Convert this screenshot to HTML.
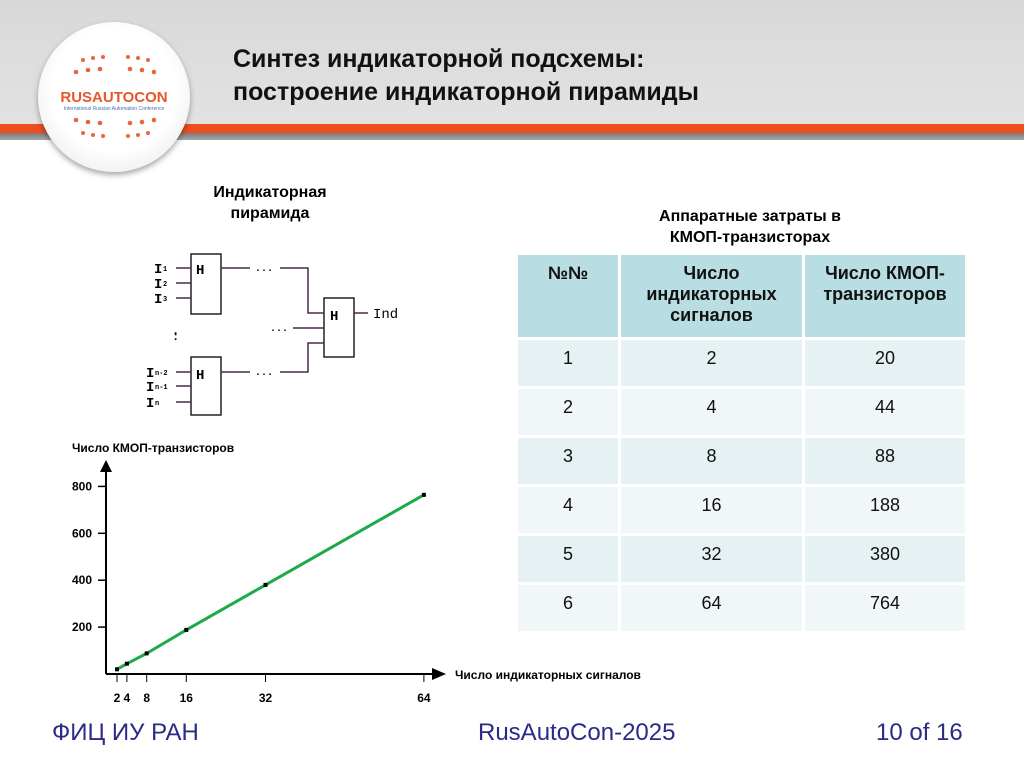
<!DOCTYPE html>
<html><head><meta charset="utf-8">
<style>
body{margin:0;width:1024px;height:767px;position:relative;overflow:hidden;background:#fff;font-family:"Liberation Sans",sans-serif;}
.abs{position:absolute;}
#hdr{left:0;top:0;width:1024px;height:124px;background:linear-gradient(#d8d8d8,#e2e2e2);}
#stripe1{left:0;top:124px;width:1024px;height:9px;background:#ee4d1d;}
#stripe2{left:0;top:133px;width:1024px;height:7px;background:linear-gradient(#7a7a7a,#a8a8a8);}
#logo{left:38px;top:22px;width:152px;height:150px;border-radius:50%;background:radial-gradient(circle at 50% 45%,#fff 55%,#eee 80%,#ccc 100%);box-shadow:0 3px 6px rgba(0,0,0,.35);}
.title{left:233px;font-weight:bold;font-size:25px;color:#111;}
table{border-collapse:separate;border-spacing:3px;position:absolute;left:515px;top:252px;width:453px;}
td{font-size:18px;text-align:center;vertical-align:top;color:#111;height:46px;box-sizing:border-box;padding:8px 0 0;}
th{font-size:18px;font-weight:bold;vertical-align:top;background:#b8dde2;color:#111;height:82px;box-sizing:border-box;padding:8px 0 0;}
tr.o td{background:#e6f1f3;} tr.e td{background:#f1f6f8;}
.foot{top:719px;font-family:"Liberation Sans Narrow","Liberation Sans",sans-serif;font-size:24px;color:#2b2b87;}
</style></head><body>
<div id="hdr" class="abs"></div>
<div id="stripe1" class="abs"></div>
<div id="stripe2" class="abs"></div>
<div id="logo" class="abs">
<svg width="152" height="150">
<g fill="#e8673a">
<circle cx="45" cy="38" r="2"/><circle cx="55" cy="36" r="2"/><circle cx="65" cy="35" r="2"/><circle cx="90" cy="35" r="2"/><circle cx="100" cy="36" r="2"/><circle cx="110" cy="38" r="2"/>
<circle cx="38" cy="50" r="2.3"/><circle cx="50" cy="48" r="2.3"/><circle cx="62" cy="47" r="2.3"/><circle cx="92" cy="47" r="2.3"/><circle cx="104" cy="48" r="2.3"/><circle cx="116" cy="50" r="2.3"/>
<circle cx="38" cy="98" r="2.3"/><circle cx="50" cy="100" r="2.3"/><circle cx="62" cy="101" r="2.3"/><circle cx="92" cy="101" r="2.3"/><circle cx="104" cy="100" r="2.3"/><circle cx="116" cy="98" r="2.3"/>
<circle cx="45" cy="111" r="2"/><circle cx="55" cy="113" r="2"/><circle cx="65" cy="114" r="2"/><circle cx="90" cy="114" r="2"/><circle cx="100" cy="113" r="2"/><circle cx="110" cy="111" r="2"/>
</g>
<text x="76" y="80" text-anchor="middle" font-family="Liberation Sans" font-weight="bold" font-size="15" fill="#e8562a">RUSAUTOCON</text>
<text x="76" y="88" text-anchor="middle" font-family="Liberation Sans" font-size="5" fill="#4a6fb0">International Russian Automation Conference</text>
</svg></div>
<div class="abs title" style="top:45px">Синтез индикаторной подсхемы:</div>
<div class="abs title" style="top:78px">построение индикаторной пирамиды</div>

<div class="abs" style="left:190px;top:182px;width:160px;text-align:center;font-weight:bold;font-size:16px;line-height:21px">Индикаторная<br>пирамида</div>
<svg class="abs" style="left:140px;top:240px" width="300" height="180">
<g stroke="#000" stroke-width="1.3" fill="#fff">
<rect x="51" y="14" width="30" height="60"/><rect x="51" y="117" width="30" height="58"/><rect x="184" y="58" width="30" height="59"/>
</g>
<g stroke="#4a2a4a" stroke-width="1.5" fill="none">
<path d="M36 28H51M36 43H51M36 58H51M36 132H51M36 146H51M36 162H51"/>
<path d="M81 28H110M140 28H168V73H184"/>
<path d="M153 88H184M168 117V103H184"/>
<path d="M81 132H110M140 132H168V117"/>
<path d="M214 73H228"/>
</g>
<g font-family="Liberation Mono" font-weight="bold" fill="#000">
<text x="56" y="34" font-size="14">H</text><text x="56" y="139" font-size="14">H</text><text x="190" y="80" font-size="14">H</text>
<text x="233" y="78" font-size="14" font-weight="normal">Ind</text>
<text x="14" y="33" font-size="14">I</text><text x="23" y="31" font-size="7">1</text>
<text x="14" y="48" font-size="14">I</text><text x="23" y="46" font-size="7">2</text>
<text x="14" y="63" font-size="14">I</text><text x="23" y="61" font-size="7">3</text>
<text x="6" y="137" font-size="14">I</text><text x="15" y="135" font-size="7">n-2</text>
<text x="6" y="151" font-size="14">I</text><text x="15" y="149" font-size="7">n-1</text>
<text x="6" y="167" font-size="14">I</text><text x="15" y="165" font-size="7">n</text>
<text x="115" y="31" font-size="10">...</text><text x="130" y="91" font-size="10">...</text><text x="115" y="135" font-size="10">...</text>
<text x="32" y="100" font-size="12">:</text><text x="32" y="94" font-size="12">.</text>
</g>
</svg>

<svg class="abs" style="left:0;top:430px" width="700" height="280" id="chart">
<text x="72" y="22" font-family="Liberation Sans" font-weight="bold" font-size="12">Число КМОП-транзисторов</text>
<text x="455" y="249" font-family="Liberation Sans" font-weight="bold" font-size="12">Число  индикаторных сигналов</text>
<g id="axes" stroke="#000" stroke-width="2"><path d="M106 244V40M106 244H434"/></g>
<path d="M100 42L106 30L112 42Z M432 238L446 244L432 250Z" fill="#000"/>
<g id="marks"></g>
</svg>
<script>
const xValues=[2,4,8,16,32,64];
const yValues=[20,44,88,188,380,764];
const yTicks=[200,400,600,800];
const xTicks=[2,4,8,16,32,64];
const ns="http://www.w3.org/2000/svg";
const X=v=>117+(v-2)*4.95, Y=v=>244-v*0.2345;
const svg=document.getElementById('chart'), g=document.getElementById('marks');
function mk(t,a){const e=document.createElementNS(ns,t);for(const k in a)e.setAttribute(k,a[k]);return e;}
yTicks.forEach(v=>{
 const l=mk('line',{x1:98,x2:106,y1:Y(v),y2:Y(v),stroke:'#000','stroke-width':1.5});
 
 g.appendChild(l);
 const t=mk('text',{x:72,y:Y(v)+4,'font-family':'Liberation Sans','font-weight':'bold','font-size':12});t.textContent=v;
 
 g.appendChild(t);
});
xTicks.forEach(v=>{
 const l=mk('line',{x1:X(v),x2:X(v),y1:244,y2:252,stroke:'#000','stroke-width':1});
 
 g.appendChild(l);
 const t=mk('text',{x:X(v),y:272,'text-anchor':'middle','font-family':'Liberation Sans','font-weight':'bold','font-size':12});t.textContent=v;
 
 g.appendChild(t);
});
let d='';xValues.forEach((v,i)=>{d+=(i?'L':'M')+X(v)+' '+Y(yValues[i]);});
const line=mk('path',{d:d,fill:'none',stroke:'#1faa4a','stroke-width':3,'stroke-linejoin':'round'});

g.appendChild(line);
xValues.forEach((v,i)=>{
 const p=mk('rect',{x:X(v)-2,y:Y(yValues[i])-2,width:4,height:4,fill:'#000'});
 
 g.appendChild(p);
});
</script>

<div class="abs" style="left:600px;top:206px;width:300px;text-align:center;font-weight:bold;font-size:16px;line-height:21px">Аппаратные затраты в<br>КМОП-транзисторах</div>
<table>
<tr><th style="width:100px">№№</th><th style="width:181px">Число индикаторных сигналов</th><th>Число КМОП-транзисторов</th></tr>
<tr class="o"><td>1</td><td>2</td><td>20</td></tr>
<tr class="e"><td>2</td><td>4</td><td>44</td></tr>
<tr class="o"><td>3</td><td>8</td><td>88</td></tr>
<tr class="e"><td>4</td><td>16</td><td>188</td></tr>
<tr class="o"><td>5</td><td>32</td><td>380</td></tr>
<tr class="e"><td>6</td><td>64</td><td>764</td></tr>
</table>

<div class="abs foot" style="left:52px">ФИЦ ИУ РАН</div>
<div class="abs foot" style="left:478px">RusAutoCon-2025</div>
<div class="abs foot" style="left:876px">10 of 16</div>
</body></html>
